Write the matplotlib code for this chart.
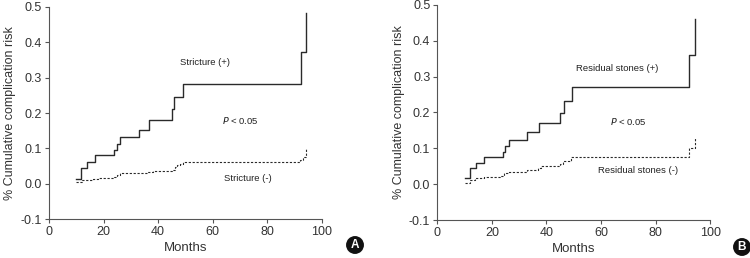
import matplotlib
matplotlib.use("Agg")
import matplotlib.pyplot as plt

plt.rcParams['font.family'] = ['Liberation Sans', 'DejaVu Sans']

# Panel A: stricture
a_pos_t = [10, 11.6, 14, 17, 23.9, 25, 26, 33, 36.7, 45, 45.9, 49.2, 92.3, 94.1]
a_pos_y = [0.014, 0.044, 0.061, 0.080, 0.095, 0.113, 0.132, 0.152, 0.179, 0.211, 0.244, 0.281, 0.373, 0.483]
a_neg_t = [10, 12, 16, 18, 24, 25, 26, 33, 36, 38, 45, 46, 47, 48, 49, 92, 93, 94, 94.2]
a_neg_y = [0.006, 0.010, 0.014, 0.017, 0.020, 0.025, 0.029, 0.031, 0.034, 0.037, 0.040, 0.046, 0.052, 0.056, 0.060, 0.068, 0.075, 0.085, 0.097]

# Panel B: residual stones
b_pos_t = [10, 12, 14.2, 17.2, 24, 24.9, 26.1, 33, 37.1, 45, 46.3, 49.3, 92.3, 94.3]
b_pos_y = [0.016, 0.044, 0.058, 0.076, 0.091, 0.106, 0.123, 0.145, 0.170, 0.199, 0.233, 0.270, 0.360, 0.462]
b_neg_t = [10, 12, 14, 17, 23, 24.5, 26, 33, 37, 38, 45, 46, 49, 92.3, 94.3]
b_neg_y = [0.004, 0.012, 0.016, 0.020, 0.022, 0.030, 0.035, 0.039, 0.045, 0.050, 0.055, 0.065, 0.075, 0.100, 0.130]

x_ticks = [0, 20, 40, 60, 80, 100]
y_ticks = [-0.1, 0.0, 0.1, 0.2, 0.3, 0.4, 0.5]

fig = plt.figure(figsize=(7.5, 2.58), dpi=100)
axA = fig.add_axes([0.0653, 0.151, 0.364, 0.822])
axB = fig.add_axes([0.583, 0.147, 0.364, 0.834])

panels = [
    (axA, a_pos_t, a_pos_y, a_neg_t, a_neg_y,
     ("Stricture (+)", 57, 0.342), (70, 0.178), ("Stricture (-)", 73, 0.014)),
    (axB, b_pos_t, b_pos_y, b_neg_t, b_neg_y,
     ("Residual stones (+)", 66, 0.324), (70, 0.176), ("Residual stones (-)", 73.7, 0.037)),
]

for ax, pt, py, nt, ny, tp, pp, tn in panels:
    ax.step(pt, py, where='post', color='#2a2a2a', lw=1.0)
    ax.step(nt, ny, where='post', color='#2a2a2a', lw=0.8, ls=(0, (2, 1.5)))
    ax.set_xlim(0, 100)
    ax.set_ylim(-0.1, 0.5)
    ax.set_xticks(x_ticks)
    ax.set_yticks(y_ticks)
    ax.set_xticklabels([str(v) for v in x_ticks])
    ax.set_yticklabels([f"{v:.1f}" for v in y_ticks])
    for s in ['top', 'right']:
        ax.spines[s].set_visible(False)
    for s in ['left', 'bottom']:
        ax.spines[s].set_color('#555555')
        ax.spines[s].set_linewidth(0.8)
    ax.tick_params(direction='out', length=3, width=0.8, color='#555555',
                   labelsize=9, labelcolor='#333333', pad=2)
    ax.set_xlabel("Months", fontsize=9.5, color='#333333', labelpad=3)
    ax.set_ylabel("% Cumulative complication risk", fontsize=9, color='#333333', labelpad=3)
    ax.text(tp[1], tp[2], tp[0], ha='center', va='center', fontsize=6.8, color='#222222')
    ax.text(pp[0], pp[1], r"$\it{P}$ < 0.05", ha='center', va='center', fontsize=6.8, color='#222222')
    ax.text(tn[1], tn[2], tn[0], ha='center', va='center', fontsize=6.8, color='#222222')

for lbl, x, y in [("A", 355/750, 1-245/258), ("B", 742/750, 1-247/258)]:
    fig.text(x, y, lbl, ha='center', va='center', fontsize=8.5, fontweight='bold', color='white',
             bbox=dict(boxstyle='circle,pad=0.25', fc='#111111', ec='none'))

fig.savefig("out.png", dpi=100)
